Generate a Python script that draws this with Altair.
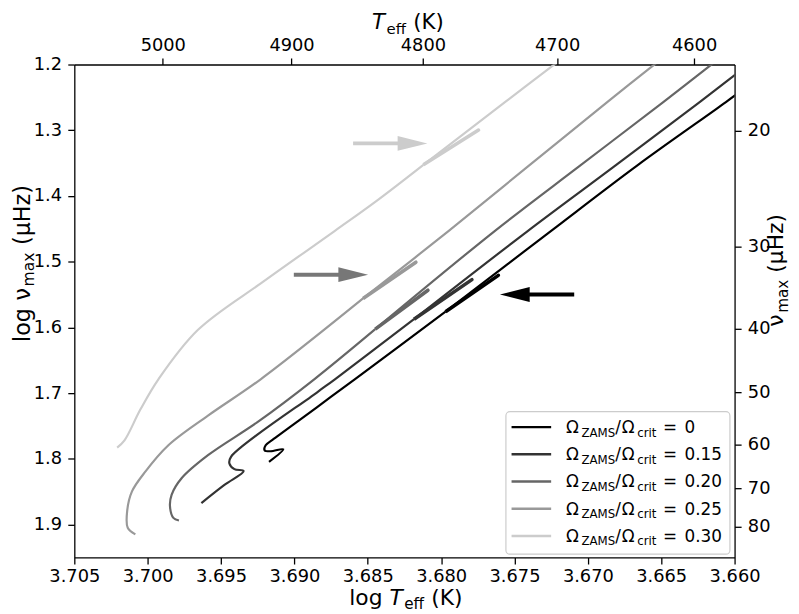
import math
import altair as alt
import pandas as pd

FONT = "DejaVu Sans"

# ---------------- data ----------------
omega_labels = ["0", "0.15", "0.20", "0.25", "0.30"]
track_colors = ["#000000", "#333333", "#666666", "#999999", "#cccccc"]

# tracks, listed from the bottom (start) to the top of the plot;
# points 8-9-10 are the bump zig-zag (B, tip, B)
logT_000 = [3.69173, 3.69076, 3.69162, 3.69203, 3.69196, 3.69139, 3.68847, 3.68589,
            3.67970, 3.67610, 3.67970, 3.67250, 3.66660, 3.66059, 3.65900]
logNu_000 = [1.8044, 1.7854, 1.7884, 1.7869, 1.7793, 1.7693, 1.7215, 1.6789,
             1.5760, 1.5208, 1.5760, 1.4530, 1.3530, 1.2572, 1.2310]

logT_015 = [3.69634, 3.69477, 3.69346, 3.69409, 3.69443, 3.69432, 3.68847, 3.68724,
            3.68185, 3.67790, 3.68185, 3.67408, 3.66820, 3.66238, 3.65900]
logNu_015 = [1.8672, 1.8396, 1.8185, 1.8155, 1.8069, 1.7968, 1.6990, 1.6789,
             1.5875, 1.5273, 1.5875, 1.4530, 1.3550, 1.2572, 1.1990]

logT_020 = [3.69787, 3.69825, 3.69848, 3.69837, 3.69769, 3.69589, 3.69252, 3.68865,
            3.68449, 3.68090, 3.68449, 3.67633, 3.67060, 3.66486, 3.66100]
logNu_020 = [1.8938, 1.8897, 1.8721, 1.8547, 1.8295, 1.7944, 1.7441, 1.6789,
             1.6026, 1.5434, 1.6026, 1.4530, 1.3550, 1.2572, 1.1900]

logT_025 = [3.70084, 3.70136, 3.70140, 3.70107, 3.70016, 3.69859, 3.69589, 3.69230,
            3.68532, 3.68172, 3.68532, 3.67948, 3.67408, 3.66868, 3.66490]
logNu_025 = [1.9149, 1.9048, 1.8797, 1.8495, 1.8194, 1.7793, 1.7342, 1.6789,
             1.5559, 1.5008, 1.5559, 1.4530, 1.3550, 1.2572, 1.1900]

logT_030 = [3.70208, 3.70158, 3.70050, 3.69927, 3.69657, 3.69210, 3.68724, 3.68442,
            3.68121, 3.67745, 3.68121, 3.67565, 3.67170]
logNu_030 = [1.7828, 1.7718, 1.7250, 1.6789, 1.6036, 1.5300, 1.4530, 1.4078,
             1.3526, 1.2998, 1.3526, 1.2572, 1.1900]
BUMP_START = 8

# arrows: tail and tip (log Teff) at a given log numax
arrow_tail_logT = [3.68600, 3.69004, 3.67093]
arrow_tip_logT = [3.68094, 3.68498, 3.67599]
arrow_logNu = [1.3200, 1.5197, 1.5499]
arrow_colors = ["#cccccc", "#777777", "#000000"]

# axes
x_domain = [3.660, 3.705]
y_domain = [1.2, 1.95]
x_ticks = [3.705, 3.700, 3.695, 3.690, 3.685, 3.680, 3.675, 3.670, 3.665, 3.660]
y_ticks = [1.2, 1.3, 1.4, 1.5, 1.6, 1.7, 1.8, 1.9]
teff_ticks = [5000, 4900, 4800, 4700, 4600]
numax_ticks = [20, 30, 40, 50, 60, 70, 80]

# ---------------- layout ----------------
W, H = 667, 498
PAD = {"left": 67, "top": 54, "right": 57, "bottom": 54}

xs = alt.Scale(domain=x_domain, reverse=True, nice=False, zero=False)
ys = alt.Scale(domain=y_domain, reverse=True, nice=False, zero=False)

EM = {' ': 0.318, '(': 0.390, ')': 0.390, 'K': 0.656, 'T': 0.611, 'e': 0.615,
      'f': 0.352, 'l': 0.278, 'o': 0.612, 'g': 0.635, 'ν': 0.592, 'm': 0.974,
      'a': 0.613, 'x': 0.592, 'μ': 0.635, 'H': 0.752, 'z': 0.525, 'Ω': 0.770,
      'Z': 0.685, 'A': 0.684, 'M': 0.863, 'S': 0.635, '/': 0.337, 'c': 0.550,
      'r': 0.411, 'i': 0.278, 't': 0.392, '=': 0.838, '.': 0.318}


def text_width(s, fs):
    return sum(EM.get(c, 0.636) for c in s) * fs


def compose(segs, start, base, rotated, centered=False):
    total = 0.0
    for txt, fs, ital, shift, gap in segs:
        total += gap + text_width(txt, fs)
    if centered:
        start = start + total / 2 if rotated else start - total / 2
    rows = []
    pos = 0.0
    for txt, fs, ital, shift, gap in segs:
        pos += gap
        if rotated:
            rows.append(dict(txt=txt, px=base + shift, py=start - pos, fs=fs, ital=ital, rot=True))
        else:
            rows.append(dict(txt=txt, px=start + pos, py=base + shift, fs=fs, ital=ital, rot=False))
        pos += text_width(txt, fs)
    return rows


TF, SF, SH = 22, 15.4, 4.5
TTF, TSF = 21.5, 15.05
LTF, LSF = 22.5, 15.75
label_rows = []
label_rows += compose([("log", TF, False, 0, 0), ("T", TF, True, 0, 7), ("eff", SF, False, SH, 1.5),
                       ("(K)", TF, False, 0, 7)], 335, 546, False, True)
label_rows += compose([("T", TTF, True, 0, 0), ("eff", TSF, False, SH, 1.5),
                       ("(K)", TTF, False, 0, 7)], 337, -35.5, False, True)
label_rows += compose([("log", LTF, False, 0, 0), ("ν", LTF, False, 0, 7.5), ("max", LSF, False, SH, 1),
                       ("(μHz)", LTF, False, 0, 7.5)], 201, -45, True, True)
label_rows += compose([("ν", TF, False, 0, 0), ("max", SF, False, SH, 1),
                       ("(μHz)", TF, False, 0, 7)], 208, 716, True, True)

# legend
LF, LS, LSH = 17, 11.9, 3.5
leg_x0, leg_y0, leg_x1, leg_y1 = 436, 350.7, 662.3, 494.7
row_y = [366.3 + 27.5 * i for i in range(len(omega_labels))]
for i, lab in enumerate(omega_labels):
    label_rows += compose([("Ω", LF, False, 0, 0), ("ZAMS", LS, False, LSH, 2.5), ("/", LF, False, 0, 0),
                           ("Ω", LF, False, 0, 0.9), ("crit", LS, False, LSH, 2.6), ("=", LF, False, 0, 6.6),
                           (lab, LF, False, 0, 7.5)], 496.7, row_y[i] + 6, False)
labels_df = pd.DataFrame(label_rows)

# ---------------- chart ----------------
axis_common = dict(domainColor="black", domainWidth=1.3, tickColor="black", tickWidth=1.3,
                   tickSize=6.6, labelFont=FONT, labelFontSize=18, labelColor="black",
                   grid=False, labelFlush=False, labelOverlap=False, title=None)

track_sets = [(logT_000, logNu_000), (logT_015, logNu_015), (logT_020, logNu_020),
              (logT_025, logNu_025), (logT_030, logNu_030)]

layers = []
for k, (lt, ln) in enumerate(track_sets):
    n = len(lt)
    lower = list(range(0, BUMP_START + 1))
    bump = [BUMP_START, BUMP_START + 1, BUMP_START + 2]
    upper = list(range(BUMP_START + 2, n))
    smooth_df = pd.DataFrame({
        "logT": [lt[i] for i in lower] + [lt[i] for i in upper],
        "logNu": [ln[i] for i in lower] + [ln[i] for i in upper],
        "piece": ["lower"] * len(lower) + ["upper"] * len(upper),
        "ord": list(range(len(lower))) + list(range(len(upper))),
    })
    bump_df = pd.DataFrame({"logT": [lt[i] for i in bump], "logNu": [ln[i] for i in bump],
                            "ord": [0, 1, 2]})
    if k == 0:
        xa = alt.Axis(values=x_ticks, format=".3f", orient="bottom", labelPadding=17.5,
                      labelBaseline="alphabetic", **axis_common)
        ya = alt.Axis(values=y_ticks, format=".1f", orient="left", labelPadding=6.3, **axis_common)
    else:
        xa = None
        ya = None
    layers.append(
        alt.Chart(smooth_df).mark_line(color=track_colors[k], strokeWidth=2.2, clip=True,
                                       interpolate="catmull-rom").encode(
            x=alt.X("logT:Q", scale=xs, axis=xa),
            y=alt.Y("logNu:Q", scale=ys, axis=ya),
            detail="piece:N",
            order="ord:Q",
        )
    )
    layers.append(
        alt.Chart(bump_df).mark_line(color=track_colors[k], strokeWidth=3.6, clip=True,
                                     strokeJoin="round").encode(
            x=alt.X("logT:Q", scale=xs, axis=None),
            y=alt.Y("logNu:Q", scale=ys, axis=None),
            order="ord:Q",
        )
    )

# top / right axes (Teff and numax)
top_vals = [math.log10(t) for t in teff_ticks]
right_vals = [math.log10(n) for n in numax_ticks]
axis_df = pd.DataFrame({"logT": logT_000, "logNu": logNu_000})
layers.append(
    alt.Chart(axis_df).mark_point(opacity=0).encode(
        x=alt.X("logT:Q", scale=xs,
                axis=alt.Axis(values=top_vals, orient="top", labelExpr="format(pow(10, datum.value), '.0f')",
                              labelPadding=8, labelBaseline="alphabetic", **axis_common)),
        y=alt.Y("logNu:Q", scale=ys,
                axis=alt.Axis(values=right_vals, orient="right", labelExpr="format(pow(10, datum.value), '.0f')",
                              labelPadding=6.3, **axis_common)),
    )
)

# arrows
for i in range(len(arrow_colors)):
    adf = pd.DataFrame({"tail": [arrow_tail_logT[i]], "tip": [arrow_tip_logT[i]], "nu": [arrow_logNu[i]]})
    right_pointing = arrow_tip_logT[i] < arrow_tail_logT[i]
    off = -15 if right_pointing else 15
    layers.append(
        alt.Chart(adf).mark_rule(color=arrow_colors[i], strokeWidth=4, x2Offset=off).encode(
            x=alt.X("tail:Q", scale=xs, axis=None), x2="tip:Q", y=alt.Y("nu:Q", scale=ys, axis=None)
        )
    )
    shape = "M0,0L-1,-0.25L-1,0.25Z" if right_pointing else "M0,0L1,-0.25L1,0.25Z"
    layers.append(
        alt.Chart(adf).mark_point(shape=shape, size=3600, filled=True, opacity=1,
                                  color=arrow_colors[i], strokeWidth=0).encode(
            x=alt.X("tip:Q", scale=xs, axis=None), y=alt.Y("nu:Q", scale=ys, axis=None)
        )
    )

# legend box and lines
box_df = pd.DataFrame({"x0": [leg_x0], "x1": [leg_x1], "y0": [leg_y0], "y1": [leg_y1]})
layers.append(
    alt.Chart(box_df).mark_rect(fill="white", fillOpacity=0.8, stroke="#cccccc", strokeWidth=1.2,
                                cornerRadius=4).encode(
        x=alt.X("x0:Q", scale=None, axis=None), x2="x1:Q",
        y=alt.Y("y0:Q", scale=None, axis=None), y2="y1:Q")
)
leg_df = pd.DataFrame({"lx0": [441.7] * 5, "lx1": [481.7] * 5, "ly": row_y, "col": track_colors})
layers.append(
    alt.Chart(leg_df).mark_rule(strokeWidth=2.5).encode(
        x=alt.X("lx0:Q", scale=None, axis=None), x2="lx1:Q",
        y=alt.Y("ly:Q", scale=None, axis=None), color=alt.Color("col:N", scale=None))
)

# text pieces (titles and legend labels)
for ital in (False, True):
    for rot in (False, True):
        sub = labels_df[(labels_df.ital == ital) & (labels_df.rot == rot)]
        if len(sub) == 0:
            continue
        kw = dict(align="left", baseline="alphabetic", font=FONT, color="black")
        if ital:
            kw["fontStyle"] = "italic"
        if rot:
            kw["angle"] = 270
        layers.append(
            alt.Chart(sub).mark_text(**kw).encode(
                x=alt.X("px:Q", scale=None, axis=None),
                y=alt.Y("py:Q", scale=None, axis=None),
                text="txt:N",
                size=alt.Size("fs:Q", scale=None),
            )
        )

chart = (
    alt.layer(*layers)
    .resolve_axis(x="independent", y="independent")
    .properties(width=W, height=H, autosize=alt.AutoSizeParams(type="none"), padding=PAD)
    .configure_view(stroke=None)
)

chart.save("out.html", embed_options={"renderer": "svg", "actions": False})
